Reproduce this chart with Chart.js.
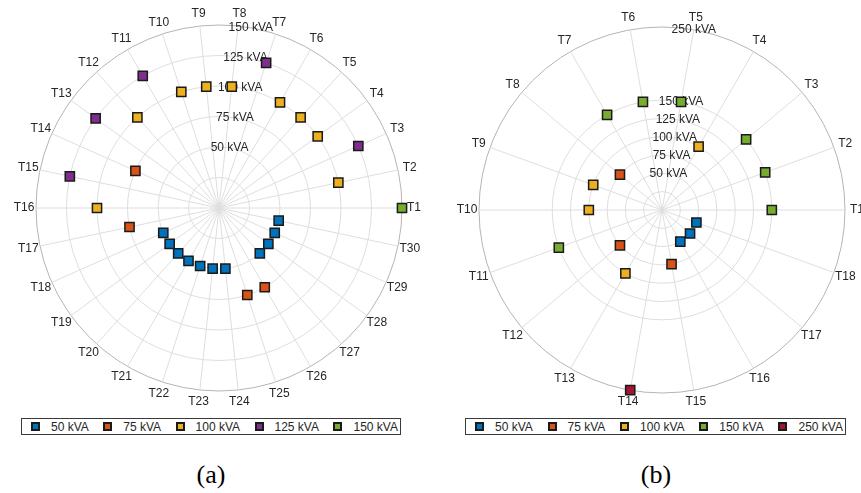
<!DOCTYPE html>
<html>
<head>
<meta charset="utf-8">
<script src="https://cdn.jsdelivr.net/npm/chart.js@4.4.1/dist/chart.umd.min.js"></script>
<style>
  html, body { margin: 0; padding: 0; background: #fff; }
  #page { position: relative; width: 861px; height: 493px; overflow: hidden;
          font-family: "Liberation Sans", Arial, sans-serif; }
  .plot { position: absolute; top: 0; }
  .legend { position: absolute; top: 418px; height: 17px; box-sizing: border-box;
            border: 1px solid #3a3a3a; background: #fff; display: flex; align-items: center;
            justify-content: space-between; padding: 0 2px 0 9px; font-size: 12px; color: #262626; }
  .item { display: flex; align-items: center; white-space: nowrap; }
  .sw { width: 5px; height: 5px; border: 2px solid #1a1a1a; margin-right: 11px; }
  .caption { position: absolute; top: 462px; font-family: "Liberation Serif", serif;
             font-size: 26px; line-height: 26px; color: #000; transform: translateX(-50%); }
</style>
</head>
<body>
<div id="page">
  <canvas id="chartA" class="plot" style="left:0px" width="440" height="410"></canvas>
  <canvas id="chartB" class="plot" style="left:440px" width="421" height="410"></canvas>
  <div id="legendA" class="legend" style="left:21px; width:380px"></div>
  <div id="legendB" class="legend" style="left:465px; width:381px"></div>
  <div class="caption" style="left:211px">(a)</div>
  <div class="caption" style="left:656px">(b)</div>
</div>
<script>
// Network (a): 30 transformers and their rated power
const namesA = ['T1','T2','T3','T4','T5','T6','T7','T8','T9','T10',
                'T11','T12','T13','T14','T15','T16','T17','T18','T19','T20',
                'T21','T22','T23','T24','T25','T26','T27','T28','T29','T30'];
const ratingsA = [150, 100, 125, 100, 100, 100, 125, 100, 100, 100,
                  125, 100, 125, 75, 125, 100, 75, 50, 50, 50,
                  50, 50, 50, 50, 75, 75, 50, 50, 50, 50];
const classesA = [50, 75, 100, 125, 150];
const ringsA = [0, 25, 50, 75, 100, 125, 150];
const ringLabelsA = [50, 75, 100, 125, 150];

// Network (b): 18 transformers and their rated power
const namesB = ['T1','T2','T3','T4','T5','T6','T7','T8','T9',
                'T10','T11','T12','T13','T14','T15','T16','T17','T18'];
const ratingsB = [150, 150, 150, 100, 150, 150, 150, 75, 100,
                  100, 150, 75, 100, 250, 75, 50, 50, 50];
const classesB = [50, 75, 100, 150, 250];
const ringsB = [0, 25, 50, 75, 100, 125, 150, 250];
const ringLabelsB = [50, 75, 100, 125, 150, 250];

const unit = ' kVA';
const classColors = { 50: '#0072BD', 75: '#D95319', 100: '#EDB120',
                      125: '#7E2F8E', 150: '#77AC30', 250: '#A2142F' };

// Chart.js walks the spokes clockwise; the transformers run counter-clockwise from T1.
function ccw(arr) { return [arr[0], ...arr.slice(1).reverse()]; }

// Spoke names and ring values, drawn as canvas text around the polar grid
function polarText(ringLabels) {
  return {
    id: 'polarText',
    beforeDatasetsDraw(chart) {
      const s = chart.scales.r;
      const ctx = chart.ctx;
      ctx.save();
      ctx.font = '12px "Liberation Sans", Arial, sans-serif';
      ctx.fillStyle = '#262626';
      ctx.textAlign = 'center';
      ctx.textBaseline = 'middle';
      const a = 80 * Math.PI / 180;
      ringLabels.forEach(v => {
        const d = s.getDistanceFromCenterForValue(v);
        ctx.fillText(v + unit, s.xCenter + d * Math.cos(a), s.yCenter - d * Math.sin(a));
      });
      chart.data.labels.forEach((name, i) => {
        const p = s.getPointPosition(i, s.drawingArea + 12);
        ctx.fillText(name, p.x, p.y);
      });
      ctx.restore();
    }
  };
}

function makeChart(id, names, ratings, classes, rings, ringLabels, padding) {
  const labels = ccw(names);
  const values = ccw(ratings);
  const rMax = rings[rings.length - 1];
  const datasets = classes.map(c => ({
    label: c + unit,
    data: values.map(v => (v === c ? v : null)),
    showLine: false,
    fill: false,
    borderColor: 'transparent',
    backgroundColor: 'transparent',
    borderWidth: 0,
    pointStyle: 'rect',
    pointRadius: 6.5,
    pointHoverRadius: 6.5,
    pointBorderWidth: 1.5,
    pointBorderColor: '#1a1a1a',
    pointBackgroundColor: classColors[c],
    clip: false
  }));
  new Chart(document.getElementById(id), {
    type: 'radar',
    data: { labels, datasets },
    options: {
      responsive: false,
      animation: false,
      events: [],
      layout: { padding },
      plugins: { legend: { display: false }, tooltip: { enabled: false } },
      scales: {
        r: {
          min: 0,
          max: rMax,
          startAngle: 90,
          afterBuildTicks: s => { s.ticks = rings.map(v => ({ value: v })); },
          ticks: { display: false },
          pointLabels: { display: false },
          grid: {
            circular: true,
            lineWidth: 1,
            color: ctx => (ctx.tick && ctx.tick.value === rMax ? '#b4b4b4' : '#dedede')
          },
          angleLines: { color: '#dedede', lineWidth: 1 }
        }
      }
    },
    plugins: [polarText(ringLabels)]
  });
}

function makeLegend(id, classes) {
  const box = document.getElementById(id);
  classes.forEach(c => {
    const item = document.createElement('span');
    item.className = 'item';
    const sw = document.createElement('span');
    sw.className = 'sw';
    sw.style.background = classColors[c];
    item.appendChild(sw);
    item.appendChild(document.createTextNode(c + unit));
    box.appendChild(item);
  });
}

makeChart('chartA', namesA, ratingsA, classesA, ringsA, ringLabelsA,
          { left: 36, right: 38, top: 25, bottom: 19 });
makeChart('chartB', namesB, ratingsB, classesB, ringsB, ringLabelsB,
          { left: 39, right: 16, top: 27, bottom: 17 });
makeLegend('legendA', classesA);
makeLegend('legendB', classesB);
</script>
</body>
</html>
